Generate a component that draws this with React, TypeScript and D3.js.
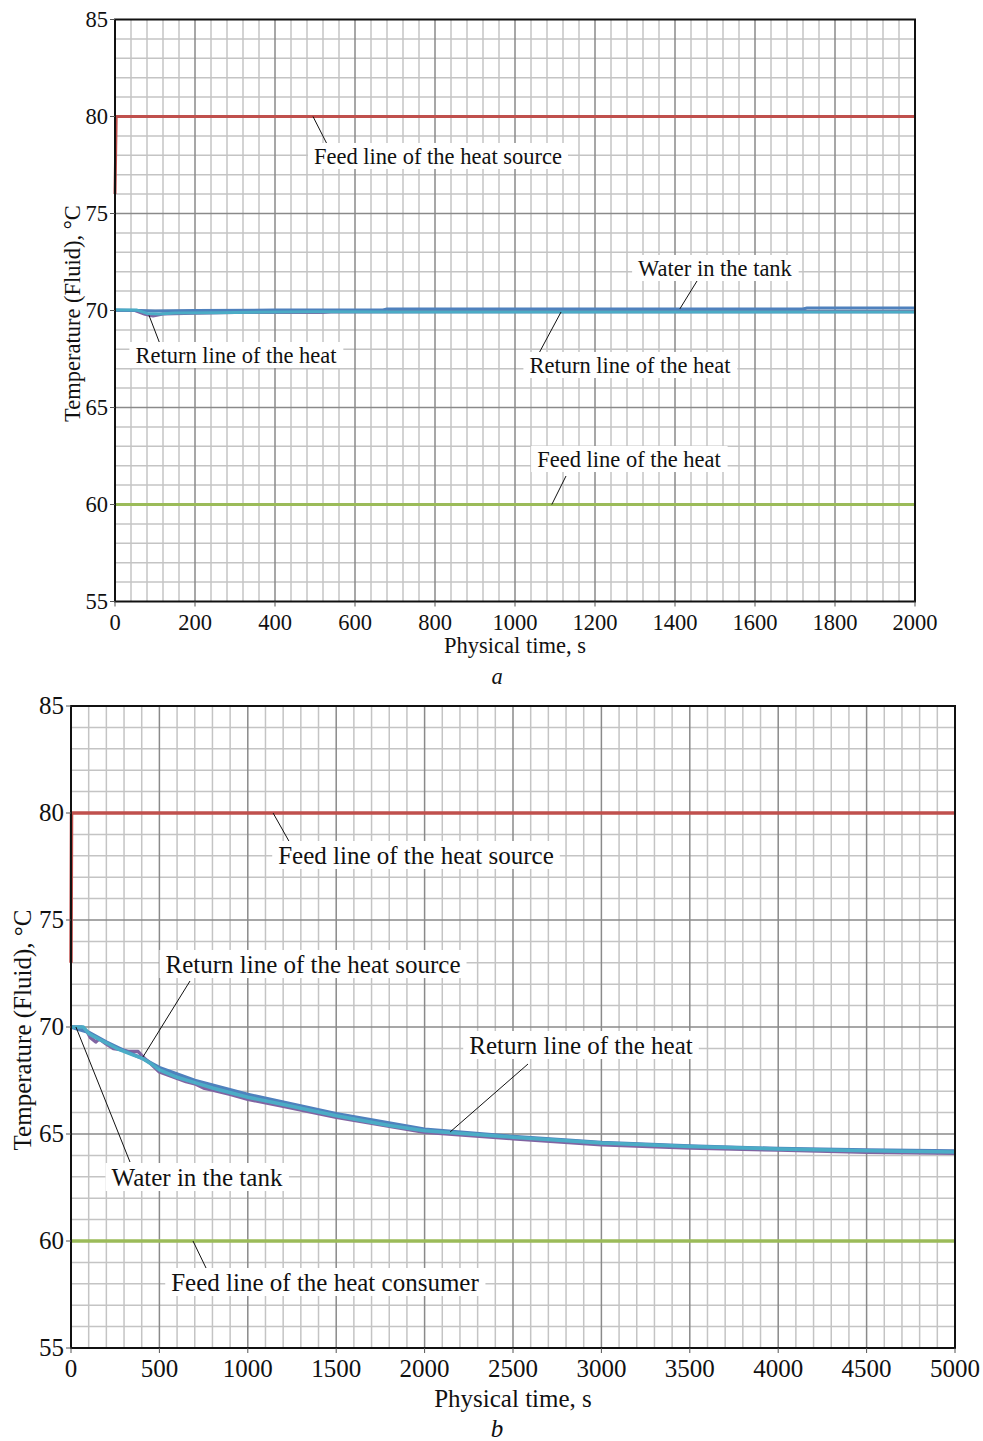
import React, { useEffect, useRef } from "react";
import * as d3 from "d3";

// ---------- Data ----------
const yTicks = [55, 60, 65, 70, 75, 80, 85];
const xTicksA = [0, 200, 400, 600, 800, 1000, 1200, 1400, 1600, 1800, 2000];
const xTicksB = [0, 500, 1000, 1500, 2000, 2500, 3000, 3500, 4000, 4500, 5000];

// Panel a
const feedSourceA_t = [0, 3, 2000];
const feedSourceA_v = [76.0, 80, 80];
const feedConsumerA_t = [0, 2000];
const feedConsumerA_v = [60, 60];
const tankA_t = [0, 60, 100, 200, 400, 670, 680, 1100, 1720, 1730, 2000];
const tankA_v = [70.02, 70.0, 69.97, 70.0, 70.02, 70.03, 70.08, 70.08, 70.08, 70.13, 70.13];
const returnSourceA_t = [0, 50, 75, 95, 120, 200, 300, 520, 540, 800, 1000, 2000];
const returnSourceA_v = [70.0, 70.0, 69.8, 69.72, 69.82, 69.86, 69.9, 69.9, 69.92, 69.93, 69.93, 69.93];
const returnConsumerA_t = [0, 55, 80, 110, 150, 250, 300, 500, 700, 900, 1200, 2000];
const returnConsumerA_v = [70.02, 70.02, 69.85, 69.82, 69.87, 69.88, 69.9, 69.93, 69.92, 69.92, 69.92, 69.92];

// Panel b
const feedSourceB_t = [0, 3, 5000];
const feedSourceB_v = [73.0, 80, 80];
const feedConsumerB_t = [0, 5000];
const feedConsumerB_v = [60, 60];
const tankB_t = [0, 100, 200, 300, 400, 500, 700, 1000, 1500, 2000, 2500, 3000, 3500, 4000, 4500, 5000];
const tankB_v = [70.0, 69.75, 69.3, 68.9, 68.55, 68.1, 67.5, 66.85, 65.95, 65.22, 64.88, 64.6, 64.44, 64.32, 64.25, 64.2];
const returnSourceB_t = [0, 60, 90, 110, 140, 160, 200, 240, 280, 330, 380, 420, 450, 500, 550, 600, 650, 700, 750, 800, 900, 1000, 1200, 1500, 2000, 2500, 3000, 3500, 4000, 4500, 5000];
const returnSourceB_v = [70.0, 70.0, 69.8, 69.5, 69.3, 69.45, 69.2, 69.0, 68.95, 68.85, 68.85, 68.5, 68.3, 67.9, 67.75, 67.6, 67.45, 67.35, 67.15, 67.05, 66.85, 66.62, 66.3, 65.78, 65.08, 64.78, 64.5, 64.35, 64.25, 64.15, 64.1];
const returnConsumerB_t = [0, 70, 100, 130, 200, 270, 350, 400, 450, 500, 600, 700, 800, 1000, 1200, 1500, 1800, 2000, 2500, 3000, 3500, 4000, 4500, 5000];
const returnConsumerB_v = [70.0, 70.0, 69.7, 69.55, 69.25, 68.95, 68.7, 68.55, 68.3, 68.0, 67.65, 67.4, 67.15, 66.72, 66.38, 65.85, 65.4, 65.15, 64.85, 64.58, 64.42, 64.3, 64.22, 64.16];

const COLORS = {
  red: "#c0504d",
  green: "#9bbb59",
  blue: "#4f81bd",
  purple: "#8064a2",
  cyan: "#4bacc6",
};

type Series = { t: number[]; v: number[]; color: string };
type Ann = { text: string; cx: number; by: number; at: [number, number]; to: [number, number] };

type PanelCfg = {
  left: number; right: number; top: number; bottom: number;
  xMax: number; xTicks: number[]; minorStep: number;
  series: Series[];
  anns: Ann[];
  font: number;
  lineW: number;
  yTitleX: number;
  xTitleY: number;
  tickLabelDy: number;
  letter: string; letterY: number;
};

const panels: PanelCfg[] = [
  {
    left: 115, right: 915, top: 19.5, bottom: 601.5,
    xMax: 2000, xTicks: xTicksA, minorStep: 40,
    series: [
      { t: feedSourceA_t, v: feedSourceA_v, color: COLORS.red },
      { t: feedConsumerA_t, v: feedConsumerA_v, color: COLORS.green },
      { t: returnSourceA_t, v: returnSourceA_v, color: COLORS.purple },
      { t: tankA_t, v: tankA_v, color: COLORS.blue },
      { t: returnConsumerA_t, v: returnConsumerA_v, color: COLORS.cyan },
    ],
    anns: [
      { text: "Feed line of the heat source", cx: 438, by: 164, at: [495, 80], to: [328, 146] },
      { text: "Water in the tank", cx: 715, by: 276, at: [1412, 70.08], to: [697, 281] },
      { text: "Return line of the heat", cx: 236, by: 363, at: [85, 69.75], to: [160, 344] },
      { text: "Return line of the heat", cx: 630, by: 373, at: [1115, 69.92], to: [538, 355] },
      { text: "Feed line of the heat", cx: 629, by: 467, at: [1092, 60], to: [566, 476] },
    ],
    font: 22.5,
    lineW: 3,
    yTitleX: 72,
    xTitleY: 653,
    tickLabelDy: 28,
    letter: "a", letterY: 684,
  },
  {
    left: 71, right: 955, top: 706, bottom: 1348,
    xMax: 5000, xTicks: xTicksB, minorStep: 100,
    series: [
      { t: feedSourceB_t, v: feedSourceB_v, color: COLORS.red },
      { t: feedConsumerB_t, v: feedConsumerB_v, color: COLORS.green },
      { t: returnSourceB_t, v: returnSourceB_v, color: COLORS.purple },
      { t: tankB_t, v: tankB_v, color: COLORS.blue },
      { t: returnConsumerB_t, v: returnConsumerB_v, color: COLORS.cyan },
    ],
    anns: [
      { text: "Feed line of the heat source", cx: 416, by: 864, at: [1143, 80], to: [290, 843] },
      { text: "Return line of the heat source", cx: 313, by: 973, at: [407, 68.6], to: [190, 981] },
      { text: "Return line of the heat", cx: 581, by: 1054, at: [2145, 65.1], to: [528, 1064] },
      { text: "Water in the tank", cx: 197, by: 1186, at: [28, 70], to: [130, 1162] },
      { text: "Feed line of the heat consumer", cx: 325, by: 1291, at: [690, 60], to: [207, 1270] },
    ],
    font: 25,
    lineW: 3.5,
    yTitleX: 22,
    xTitleY: 1407,
    tickLabelDy: 29,
    letter: "b", letterY: 1437,
  },
];

const FONT = "'Liberation Serif', 'Times New Roman', serif";

function drawPanel(svg: d3.Selection<SVGSVGElement, unknown, null, undefined>, p: PanelCfg) {
  const x = d3.scaleLinear().domain([0, p.xMax]).range([p.left, p.right]);
  const y = d3.scaleLinear().domain([55, 85]).range([p.bottom, p.top]);
  const g = svg.append("g");

  // minor grid
  const vMinor = d3.range(0, p.xMax + 1, p.minorStep).filter((t) => !p.xTicks.includes(t));
  const hMinor = d3.range(55, 86, 1).filter((v) => !yTicks.includes(v));
  g.selectAll(".vmin").data(vMinor).enter().append("line")
    .attr("x1", (d) => x(d)).attr("x2", (d) => x(d)).attr("y1", p.top).attr("y2", p.bottom)
    .attr("stroke", "#c4c4c4").attr("stroke-width", 1.5);
  g.selectAll(".hmin").data(hMinor).enter().append("line")
    .attr("y1", (d) => y(d)).attr("y2", (d) => y(d)).attr("x1", p.left).attr("x2", p.right)
    .attr("stroke", "#c4c4c4").attr("stroke-width", 1.5);
  // major grid
  g.selectAll(".vmaj").data(p.xTicks.slice(1, -1)).enter().append("line")
    .attr("x1", (d) => x(d)).attr("x2", (d) => x(d)).attr("y1", p.top).attr("y2", p.bottom)
    .attr("stroke", "#8a8a8a").attr("stroke-width", 1.5);
  g.selectAll(".hmaj").data(yTicks.slice(1, -1)).enter().append("line")
    .attr("y1", (d) => y(d)).attr("y2", (d) => y(d)).attr("x1", p.left).attr("x2", p.right)
    .attr("stroke", "#8a8a8a").attr("stroke-width", 1.5);

  // series
  const line = d3.line<[number, number]>().x((d) => x(d[0])).y((d) => y(d[1]));
  p.series.forEach((s) => {
    const pts = s.t.map((t, i) => [t, s.v[i]] as [number, number]);
    g.append("path").attr("d", line(pts) as string).attr("fill", "none")
      .attr("stroke", s.color).attr("stroke-width", p.lineW).attr("stroke-linejoin", "round");
  });

  // frame
  g.append("rect").attr("x", p.left).attr("y", p.top).attr("width", p.right - p.left).attr("height", p.bottom - p.top)
    .attr("fill", "none").attr("stroke", "#111").attr("stroke-width", 2);

  // ticks
  g.selectAll(".yt").data(yTicks).enter().append("line")
    .attr("x1", p.left - 5).attr("x2", p.left).attr("y1", (d) => y(d)).attr("y2", (d) => y(d))
    .attr("stroke", "#555").attr("stroke-width", 1);
  g.selectAll(".xt").data(p.xTicks).enter().append("line")
    .attr("y1", p.bottom).attr("y2", p.bottom + 5).attr("x1", (d) => x(d)).attr("x2", (d) => x(d))
    .attr("stroke", "#555").attr("stroke-width", 1);
  g.selectAll(".yl").data(yTicks).enter().append("text")
    .attr("x", p.left - 7).attr("y", (d) => y(d) + p.font * 0.33)
    .attr("text-anchor", "end").attr("font-family", FONT).attr("font-size", p.font).attr("fill", "#111")
    .text((d) => String(d));
  g.selectAll(".xl").data(p.xTicks).enter().append("text")
    .attr("x", (d) => x(d)).attr("y", p.bottom + p.tickLabelDy)
    .attr("text-anchor", "middle").attr("font-family", FONT).attr("font-size", p.font).attr("fill", "#111")
    .text((d) => String(d));

  // axis titles
  g.append("text").attr("transform", `translate(${p.yTitleX},${(p.top + p.bottom) / 2 + 3}) rotate(-90)`)
    .attr("text-anchor", "middle").attr("dominant-baseline", "central")
    .attr("font-family", FONT).attr("font-size", p.font).attr("fill", "#111")
    .text("Temperature (Fluid), °C");
  g.append("text").attr("x", (p.left + p.right) / 2).attr("y", p.xTitleY)
    .attr("text-anchor", "middle").attr("font-family", FONT).attr("font-size", p.font).attr("fill", "#111")
    .text("Physical time, s");
  g.append("text").attr("x", 497).attr("y", p.letterY)
    .attr("text-anchor", "middle").attr("font-family", FONT).attr("font-size", p.font).attr("font-style", "italic").attr("fill", "#111")
    .text(p.letter);

  // annotations
  p.anns.forEach((a) => {
    g.append("line").attr("x1", x(a.at[0])).attr("y1", y(a.at[1])).attr("x2", a.to[0]).attr("y2", a.to[1])
      .attr("stroke", "#111").attr("stroke-width", 1);
    const rect = g.append("rect").attr("fill", "#fff");
    const txt = g.append("text").attr("x", a.cx).attr("y", a.by)
      .attr("text-anchor", "middle").attr("font-family", FONT).attr("font-size", p.font).attr("fill", "#111")
      .text(a.text);
    const bb = (txt.node() as SVGTextElement).getBBox();
    rect.attr("x", bb.x - 6).attr("y", bb.y - 1).attr("width", bb.width + 12).attr("height", bb.height + 1);
  });
}

export default function App() {
  const ref = useRef<SVGSVGElement | null>(null);
  useEffect(() => {
    if (!ref.current) return;
    const svg = d3.select(ref.current);
    svg.selectAll("*").remove();
    svg.append("rect").attr("width", 983).attr("height", 1441).attr("fill", "#fff");
    panels.forEach((p) => drawPanel(svg, p));
  }, []);
  return (
    <svg ref={ref} width={983} height={1441}
      style={{ position: "absolute", left: 0, top: 0, display: "block" }} />
  );
}
